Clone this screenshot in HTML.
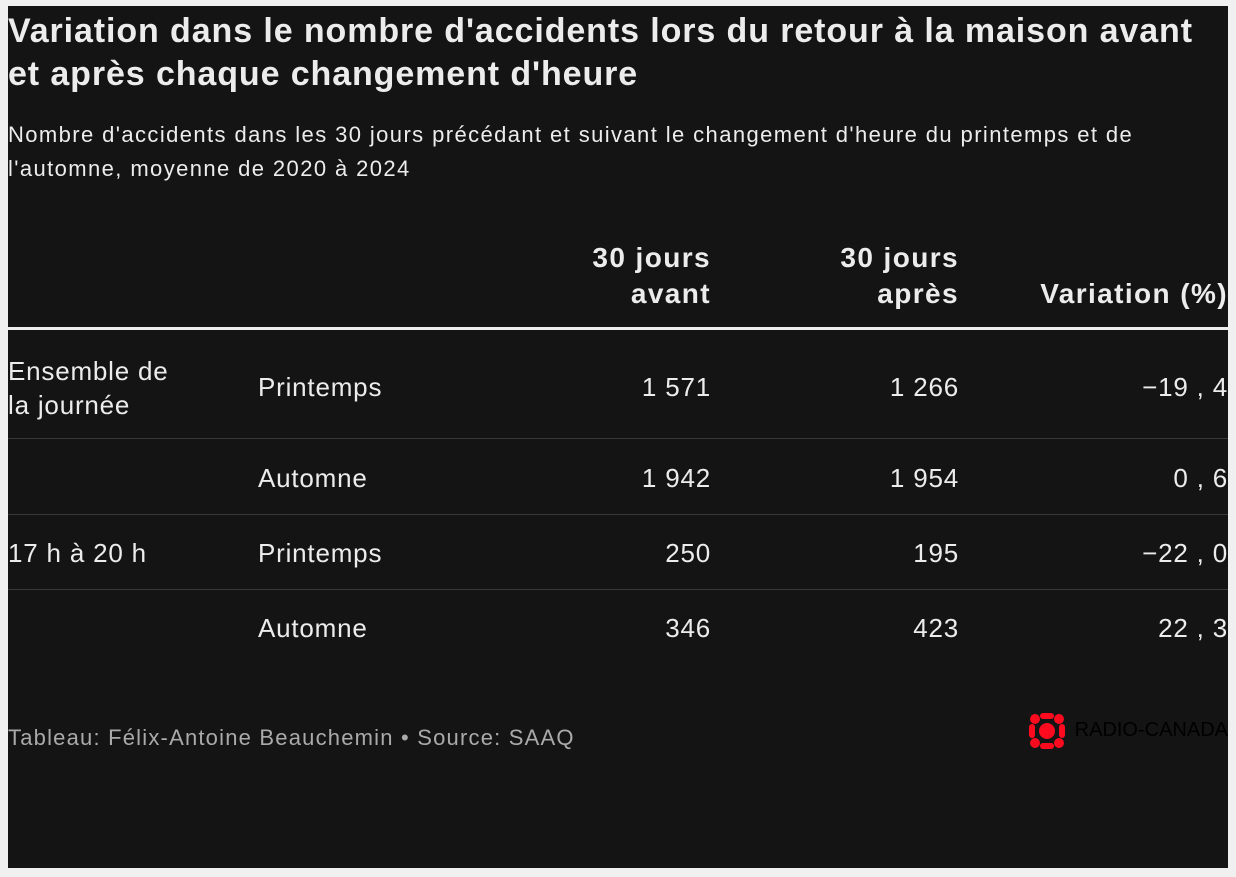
<!DOCTYPE html>
<html><head><meta charset="utf-8"><style>
body{margin:0;background:#f0f0f0;width:1236px;height:877px;overflow:hidden;font-family:"Liberation Sans",sans-serif;}
#p{position:absolute;left:8px;top:6px;width:1220px;height:862px;background:#141414;color:#ececec;overflow:hidden;}
.t{position:absolute;white-space:nowrap;}
.l{left:0;}
h1{position:absolute;left:0;top:4px;margin:0;font-size:34px;line-height:43px;font-weight:bold;letter-spacing:0.9px;white-space:nowrap;}
.sub{position:absolute;left:0;top:112px;font-size:22px;line-height:34px;white-space:nowrap;letter-spacing:1.4px;}
.h{font-weight:bold;font-size:28px;line-height:36px;text-align:right;letter-spacing:1.4px;}
.b{font-size:26px;font-weight:300;letter-spacing:0.8px;}
.ln{position:absolute;left:0;width:1220px;height:1px;background:#383838;}
</style></head><body><div id="p">
<h1>Variation dans le nombre d'accidents lors du retour à la maison avant<br>et après chaque changement d'heure</h1>
<div class="sub">Nombre d'accidents dans les 30 jours précédant et suivant le changement d'heure du printemps et de<br>l'automne, moyenne de 2020 à 2024</div>
<div class="t h" style="right:517px;top:234px">30 jours<br>avant</div>
<div class="t h" style="right:269px;top:234px">30 jours<br>après</div>
<div class="t h" style="right:0;top:270px">Variation (%)</div>
<div class="ln" style="top:321px;height:3px;background:#ececec"></div>
<div class="t b l" style="top:348px;line-height:34px">Ensemble de<br>la journée</div>
<div class="t b" style="left:250px;top:366px">Printemps</div>
<div class="t b" style="right:517px;top:366px">1 571</div>
<div class="t b" style="right:269px;top:366px">1 266</div>
<div class="t b" style="right:0;top:366px">−19 , 4</div>
<div class="ln" style="top:432px"></div>
<div class="t b" style="left:250px;top:457px">Automne</div>
<div class="t b" style="right:517px;top:457px">1 942</div>
<div class="t b" style="right:269px;top:457px">1 954</div>
<div class="t b" style="right:0;top:457px">0 , 6</div>
<div class="ln" style="top:508px"></div>
<div class="t b l" style="top:532px">17 h à 20 h</div>
<div class="t b" style="left:250px;top:532px">Printemps</div>
<div class="t b" style="right:517px;top:532px">250</div>
<div class="t b" style="right:269px;top:532px">195</div>
<div class="t b" style="right:0;top:532px">−22 , 0</div>
<div class="ln" style="top:583px"></div>
<div class="t b" style="left:250px;top:607px">Automne</div>
<div class="t b" style="right:517px;top:607px">346</div>
<div class="t b" style="right:269px;top:607px">423</div>
<div class="t b" style="right:0;top:607px">22 , 3</div>
<div class="t l" style="top:719px;font-size:22px;color:#aaa;letter-spacing:1.2px">Tableau: Félix-Antoine Beauchemin • Source: SAAQ</div>
<svg style="position:absolute;left:1018px;top:704px" width="42" height="42" viewBox="0 0 42 42"><g fill="#ff0a1e"><circle cx="21" cy="21" r="8"/><rect x="14" y="3" width="14" height="6" rx="3"/><rect x="14" y="33" width="14" height="6" rx="3"/><rect x="3" y="14" width="6" height="14" rx="3"/><rect x="33" y="14" width="6" height="14" rx="3"/><circle cx="9" cy="9" r="5"/><circle cx="33" cy="9" r="5"/><circle cx="9" cy="33" r="5"/><circle cx="33" cy="33" r="5"/></g></svg>
<div class="t" style="right:0;top:713px;font-size:20px;color:#000;letter-spacing:0px">RADIO-CANADA</div>
</div></body></html>
